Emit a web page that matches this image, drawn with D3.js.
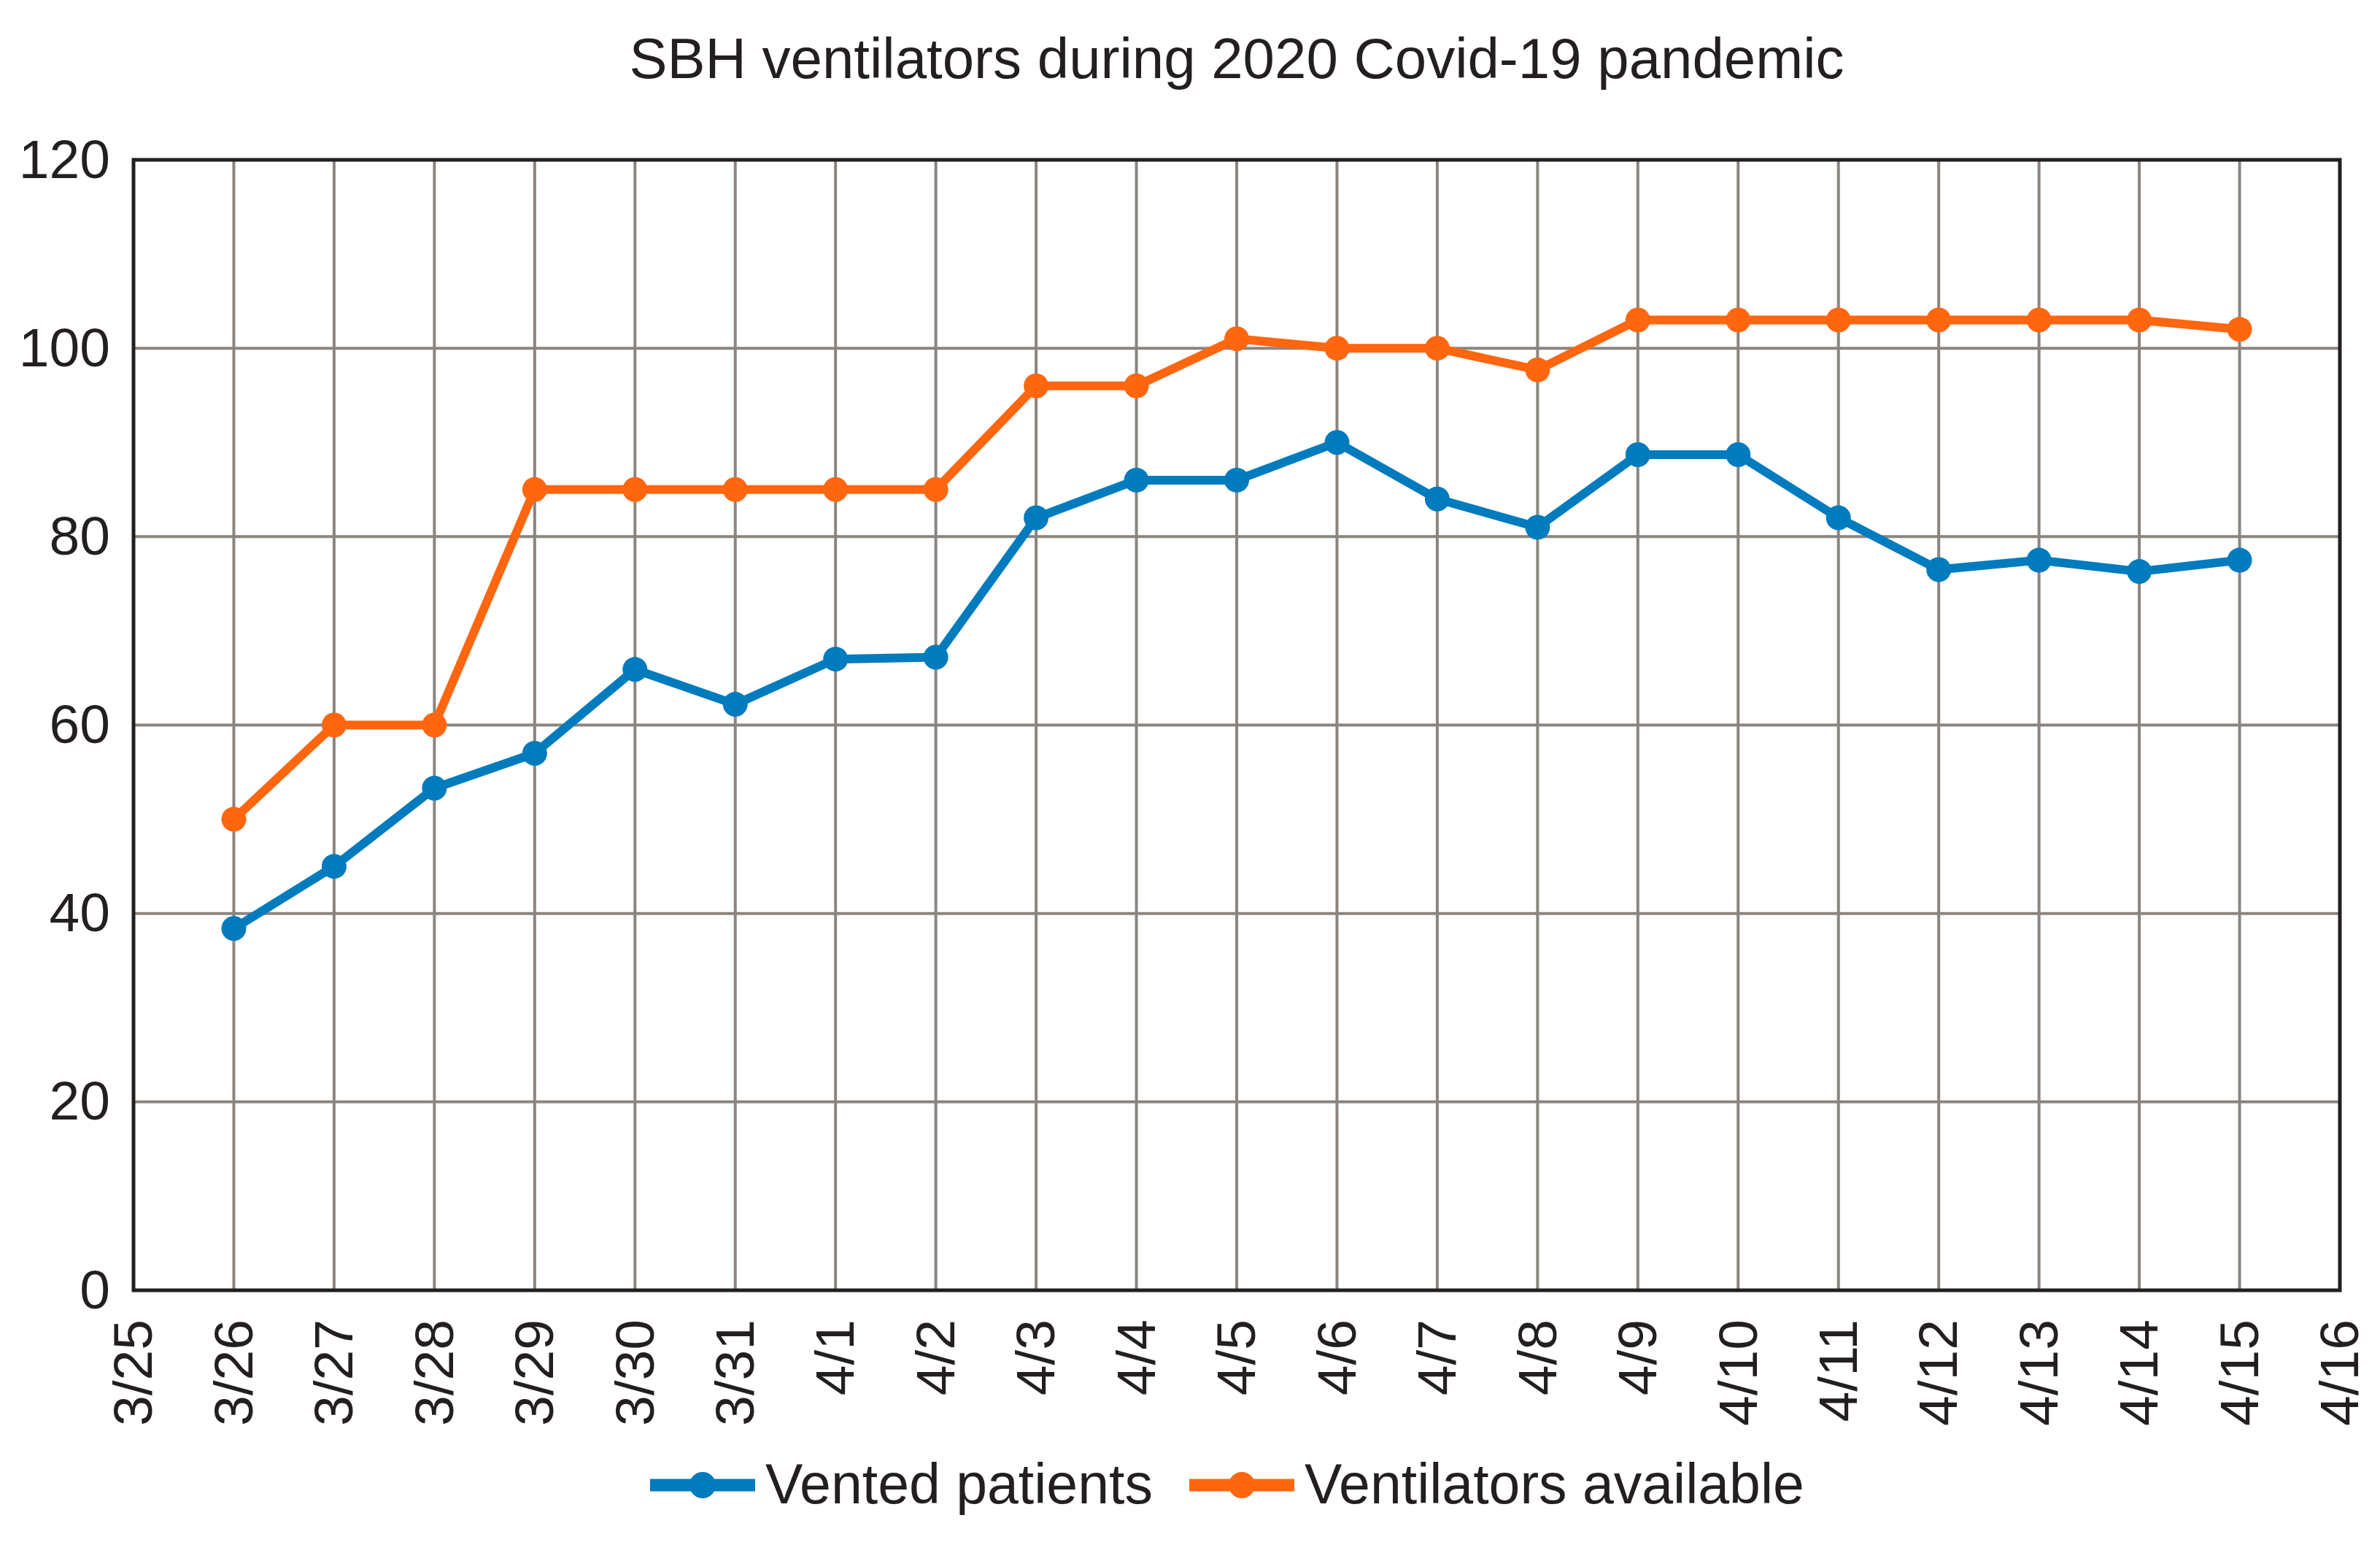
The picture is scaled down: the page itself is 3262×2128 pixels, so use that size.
<!DOCTYPE html>
<html>
<head>
<meta charset="utf-8">
<script src="https://cdn.jsdelivr.net/npm/d3@7"></script>
<style>
  body { margin: 0; background: #fff; }
  text { font-family: "Liberation Sans", Arial, sans-serif; fill: #231f20; }
</style>
</head>
<body>
<div id="vis"></div>
<script>
var dates = ["3/25", "3/26", "3/27", "3/28", "3/29", "3/30", "3/31", "4/1", "4/2", "4/3", "4/4",
             "4/5", "4/6", "4/7", "4/8", "4/9", "4/10", "4/11", "4/12", "4/13", "4/14", "4/15", "4/16"];
var dataDates = ["3/26", "3/27", "3/28", "3/29", "3/30", "3/31", "4/1", "4/2", "4/3", "4/4",
                 "4/5", "4/6", "4/7", "4/8", "4/9", "4/10", "4/11", "4/12", "4/13", "4/14", "4/15"];
var vented = [38.4, 45, 53.3, 57, 65.9, 62.2, 67, 67.2, 82, 86, 86, 90, 84, 81, 88.7, 88.7, 82, 76.5, 77.5, 76.3, 77.5];
var available = [50, 60, 60, 85, 85, 85, 85, 85, 96, 96, 101, 100, 100, 97.7, 103, 103, 103, 103, 103, 103, 102];
var yTicks = [0, 20, 40, 60, 80, 100, 120];

var seriesNames = ["Vented patients", "Ventilators available"];
var seriesColors = ["#007bbd", "#ff6610"];

var w = 3262;
var h = 2128;
var plotLeft = 183, plotRight = 3207, plotTop = 219, plotBottom = 1768;

var svg = d3.select("#vis")
	.append("svg")
	.attr("width", w)
	.attr("height", h);

var x = d3.scalePoint()
	.domain(dates)
	.range([plotLeft, plotRight]);

var y = d3.scaleLinear()
	.domain([0, 120])
	.range([plotBottom, plotTop]);

// title
svg.append("text")
	.attr("x", (plotLeft + plotRight) / 2)
	.attr("y", 107)
	.attr("text-anchor", "middle")
	.style("font-size", "78px")
	.text("SBH ventilators during 2020 Covid-19 pandemic");

// grid
svg.append("g")
	.selectAll("line")
	.data(yTicks.slice(1, -1))
	.enter()
	.append("line")
	.attr("x1", plotLeft)
	.attr("x2", plotRight)
	.attr("y1", function(d) { return y(d); })
	.attr("y2", function(d) { return y(d); })
	.attr("stroke", "#8a8580")
	.attr("stroke-width", 4);

svg.append("g")
	.selectAll("line")
	.data(dates.slice(1, -1))
	.enter()
	.append("line")
	.attr("x1", function(d) { return x(d); })
	.attr("x2", function(d) { return x(d); })
	.attr("y1", plotTop)
	.attr("y2", plotBottom)
	.attr("stroke", "#8a8580")
	.attr("stroke-width", 4);

// frame
svg.append("rect")
	.attr("x", plotLeft)
	.attr("y", plotTop)
	.attr("width", plotRight - plotLeft)
	.attr("height", plotBottom - plotTop)
	.attr("fill", "none")
	.attr("stroke", "#231f20")
	.attr("stroke-width", 5);

// y axis
var yAxis = d3.axisLeft(y)
	.tickValues(yTicks)
	.tickSize(0)
	.tickPadding(32);

var gy = svg.append("g")
	.attr("transform", "translate(" + plotLeft + ",0)")
	.call(yAxis);
gy.select(".domain").remove();
gy.selectAll("text")
	.style("font-size", "75px")
	.style("font-family", "Liberation Sans, Arial, sans-serif")
	.attr("fill", "#231f20");

// x axis, labels rotated
var xAxis = d3.axisBottom(x)
	.tickSize(0)
	.tickPadding(0);

var gx = svg.append("g")
	.attr("transform", "translate(0," + plotBottom + ")")
	.call(xAxis);
gx.select(".domain").remove();
gx.selectAll("text")
	.style("font-size", "75px")
	.style("font-family", "Liberation Sans, Arial, sans-serif")
	.attr("fill", "#231f20")
	.attr("text-anchor", "end")
	.attr("x", 0)
	.attr("y", 0)
	.attr("dy", "0.33em")
	.attr("transform", "translate(0,40) rotate(-90)");

// series
var series = [vented, available];
var line = d3.line()
	.x(function(d, i) { return x(dataDates[i]); })
	.y(function(d) { return y(d); });

series.forEach(function(values, k) {
	svg.append("path")
		.datum(values)
		.attr("d", line)
		.attr("fill", "none")
		.attr("stroke", seriesColors[k])
		.attr("stroke-width", 12)
		.attr("stroke-linejoin", "round");

	svg.append("g")
		.selectAll("circle")
		.data(values)
		.enter()
		.append("circle")
		.attr("cx", function(d, i) { return x(dataDates[i]); })
		.attr("cy", function(d) { return y(d); })
		.attr("r", 17)
		.attr("fill", seriesColors[k])
		.append("title")
		.text(function(d, i) { return seriesNames[k] + " " + dataDates[i] + ": " + d; });
});

// legend
var legendX = [891, 1630];
var legend = svg.append("g")
	.selectAll("g")
	.data(seriesNames)
	.enter()
	.append("g")
	.attr("transform", function(d, i) { return "translate(" + legendX[i] + ",2035)"; });

legend.append("line")
	.attr("x1", 0)
	.attr("x2", 144)
	.attr("stroke", function(d, i) { return seriesColors[i]; })
	.attr("stroke-width", 17);

legend.append("circle")
	.attr("cx", 72)
	.attr("r", 18)
	.attr("fill", function(d, i) { return seriesColors[i]; });

legend.append("text")
	.attr("x", 158)
	.attr("y", 25)
	.style("font-size", "77px")
	.text(function(d) { return d; });
</script>
</body>
</html>
